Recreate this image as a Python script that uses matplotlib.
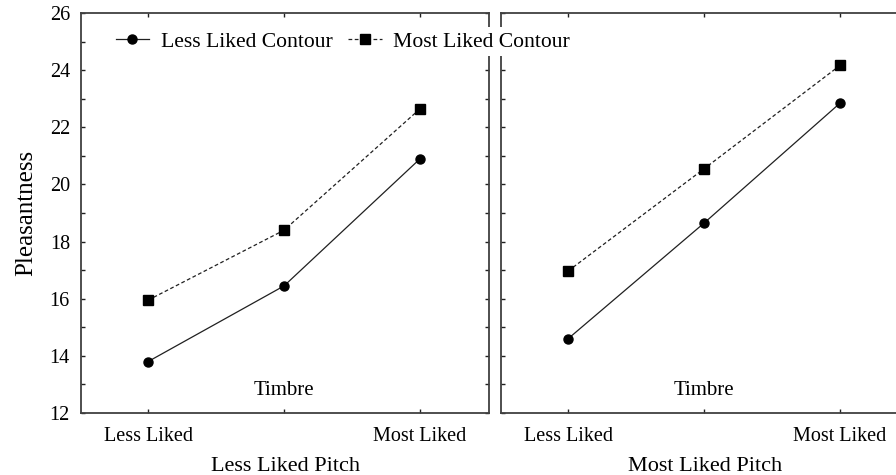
import matplotlib
matplotlib.use("Agg")
import matplotlib.pyplot as plt

plt.rcParams["font.family"] = ["Liberation Serif", "DejaVu Serif"]

# Niveles de timbre (eje x) y paneles por tono
timbre = ["Less Liked", "", "Most Liked"]
paneles = ["Less Liked Pitch", "Most Liked Pitch"]

# Pleasantness por panel: contorno menos / más preferido
less_contour = [[13.8, 16.45, 20.9], [14.6, 18.65, 22.85]]
most_contour = [[15.95, 18.4, 22.65], [16.97, 20.55, 24.17]]

yticks = [12, 14, 16, 18, 20, 22, 24, 26]
spine_col = "#404040"

fig = plt.figure(figsize=(8.96, 4.75), dpi=100)
ax1 = fig.add_axes([0.0904, 0.1305, 0.4554, 0.842])
ax2 = fig.add_axes([0.5592, 0.1305, 0.4554, 0.842])

x = range(len(timbre))
for i, ax in enumerate((ax1, ax2)):
    ax.plot(x, less_contour[i], color="#202020", lw=0.9, marker="o", ms=6.5,
            mfc="black", mec="black", label="Less Liked Contour")
    ax.plot(x, most_contour[i], color="#202020", lw=0.9, ls=(0, (3, 2)), marker="s", ms=7,
            mfc="black", mec="black", label="Most Liked Contour")
    ax.set_xlim(-0.493, 2.507)
    ax.set_ylim(12, 26)
    ax.set_xticks(list(x))
    ax.set_xticklabels(timbre, fontsize=14.5)
    ax.set_yticks(yticks)
    ax.set_yticks([13, 15, 17, 19, 21, 23, 25], minor=True)
    ax.tick_params(axis="both", which="both", direction="in", length=3, width=1,
                   color="#202020", top=True, right=True, pad=10)
    ax.tick_params(axis="y", which="major", labelsize=14.5, pad=8)
    for s in ax.spines.values():
        s.set_color(spine_col)
        s.set_linewidth(1.3)
    ax.set_xlabel(paneles[i], fontsize=16, labelpad=8)
    ax.text(1, 12.8, "Timbre", ha="center", va="center", fontsize=15)

ax2.tick_params(axis="y", labelleft=False)
ax1.set_ylabel("Pleasantness", fontsize=18, labelpad=9)

h, l = ax1.get_legend_handles_labels()
leg = fig.legend(h, l, loc="upper left", bbox_to_anchor=(0.112, 0.965), ncol=2,
                 fontsize=15.6, frameon=True, fancybox=False, facecolor="white",
                 edgecolor="none", framealpha=1, handlelength=1.55, handletextpad=0.55,
                 columnspacing=0.7, borderpad=0.2)
leg.set_zorder(10)

fig.savefig("out.png", dpi=100, facecolor="white")
